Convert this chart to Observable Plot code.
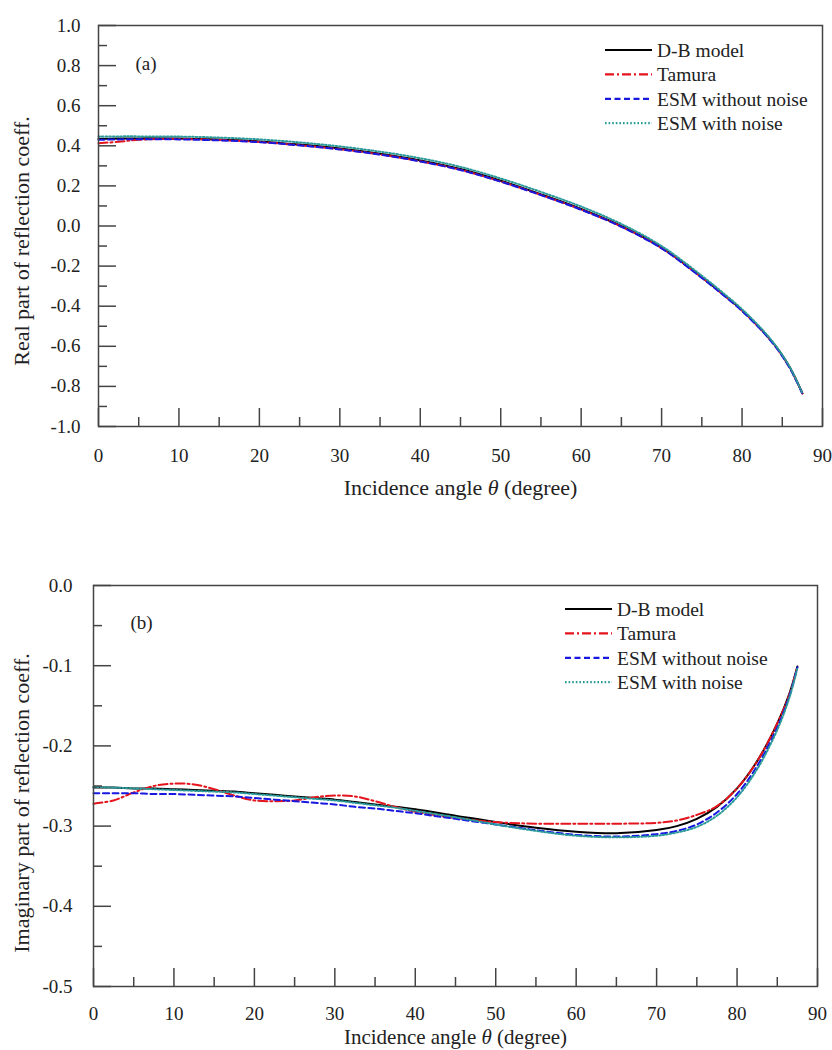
<!DOCTYPE html>
<html><head><meta charset="utf-8">
<script src="https://cdn.jsdelivr.net/npm/d3@7"></script>
<script src="https://cdn.jsdelivr.net/npm/@observablehq/plot@0.6"></script>
<style>
body{margin:0;background:#fff;}
#wrap{position:relative;width:832px;height:1050px;overflow:hidden;background:#fff;font-family:"Liberation Serif","DejaVu Serif",serif;}
.panel{position:absolute;left:0;}
#wrap svg, #wrap svg text{font-family:"Liberation Serif","DejaVu Serif",serif !important;}
</style></head><body><div id="wrap"></div>
<script>
const seriesNames = ["D-B model", "Tamura", "ESM without noise", "ESM with noise"];
const seriesColors = ["#000000", "#e3141c", "#1818e0", "#2a9a9a"];
const seriesDash = [null, "9,3,2,3", "6,3.5", "1.6,2"];

// Panel (a): real part
const anglesA = [0, 2.5, 5, 10, 15, 20, 25, 30, 35, 40, 45, 50, 55, 60, 65, 70, 75, 77.5, 80, 82.5, 84, 85, 86, 87, 87.5];
const realDB    = [0.435, 0.436, 0.437, 0.436, 0.431, 0.422, 0.406, 0.386, 0.360, 0.327, 0.284, 0.226, 0.158, 0.085, 0.000, -0.108, -0.255, -0.335, -0.420, -0.520, -0.590, -0.645, -0.710, -0.790, -0.835];
const realTam   = [0.413, 0.420, 0.430, 0.434, 0.429, 0.419, 0.403, 0.383, 0.357, 0.323, 0.280, 0.222, 0.155, 0.082, -0.003, -0.110, -0.257, -0.337, -0.422, -0.522, -0.592, -0.647, -0.712, -0.791, -0.835];
const realESM   = [0.430, 0.432, 0.433, 0.432, 0.427, 0.418, 0.402, 0.382, 0.356, 0.322, 0.279, 0.221, 0.154, 0.081, -0.004, -0.112, -0.259, -0.339, -0.424, -0.524, -0.594, -0.649, -0.714, -0.793, -0.837];
const realESMn  = [0.447, 0.447, 0.447, 0.446, 0.441, 0.432, 0.417, 0.397, 0.371, 0.338, 0.295, 0.237, 0.170, 0.097, 0.010, -0.100, -0.248, -0.329, -0.415, -0.516, -0.587, -0.643, -0.708, -0.789, -0.835];

// Panel (b): imaginary part
const anglesB = [0, 2.5, 5, 7.5, 10, 12.5, 15, 17.5, 20, 22.5, 25, 27.5, 30, 32.5, 35, 37.5, 40, 45, 50, 55, 60, 65, 70, 72.5, 75, 77.5, 80, 82.5, 85, 86.5, 87.5];
const imagDB   = [-0.252, -0.252, -0.253, -0.253, -0.254, -0.255, -0.256, -0.257, -0.259, -0.261, -0.263, -0.265, -0.267, -0.270, -0.273, -0.276, -0.279, -0.287, -0.295, -0.302, -0.307, -0.309, -0.305, -0.300, -0.291, -0.276, -0.253, -0.219, -0.172, -0.135, -0.101];
const imagTam  = [-0.272, -0.268, -0.258, -0.250, -0.247, -0.248, -0.254, -0.262, -0.268, -0.269, -0.268, -0.264, -0.262, -0.263, -0.269, -0.276, -0.282, -0.290, -0.295, -0.297, -0.297, -0.297, -0.296, -0.293, -0.286, -0.275, -0.253, -0.219, -0.172, -0.136, -0.101];
const imagESM  = [-0.259, -0.259, -0.259, -0.260, -0.260, -0.261, -0.262, -0.263, -0.265, -0.267, -0.269, -0.271, -0.273, -0.276, -0.278, -0.281, -0.284, -0.291, -0.298, -0.305, -0.311, -0.313, -0.310, -0.306, -0.298, -0.283, -0.260, -0.225, -0.177, -0.138, -0.102];
const imagESMn = [-0.251, -0.252, -0.253, -0.254, -0.255, -0.256, -0.257, -0.258, -0.260, -0.262, -0.264, -0.266, -0.268, -0.271, -0.274, -0.277, -0.281, -0.289, -0.298, -0.306, -0.312, -0.314, -0.312, -0.308, -0.301, -0.287, -0.264, -0.229, -0.180, -0.140, -0.103];

const xTicks = [0, 10, 20, 30, 40, 50, 60, 70, 80, 90];
const xMinor = [5, 15, 25, 35, 45, 55, 65, 75, 85];
const yTicksA = [-1, -0.8, -0.6, -0.4, -0.2, 0, 0.2, 0.4, 0.6, 0.8, 1];
const yMinorA = [-0.9, -0.7, -0.5, -0.3, -0.1, 0.1, 0.3, 0.5, 0.7, 0.9];
const yTicksB = [-0.5, -0.4, -0.3, -0.2, -0.1, 0];
const yMinorB = [-0.45, -0.35, -0.25, -0.15, -0.05];

const FONT = "Liberation Serif, DejaVu Serif, serif";
const AX = "#444";
const TXT = "#222";

function rows(angles, values) { return angles.map((a, i) => ({angle: a, value: values[i]})); }

function makePanel(cfg) {
  const lineMarks = cfg.series.map((vals, i) => Plot.line(rows(cfg.angles, vals), {
    x: "angle", y: "value", stroke: seriesColors[i], strokeWidth: 2,
    strokeDasharray: seriesDash[i] || undefined, curve: "catmull-rom"
  }));
  const svg = Plot.plot({
    width: 832, height: cfg.height,
    marginLeft: cfg.ml, marginRight: cfg.mr, marginTop: cfg.mt, marginBottom: cfg.mb,
    x: {domain: [0, 90]},
    y: {domain: cfg.ydomain},
    style: {fontFamily: FONT, fontSize: "19px", color: TXT, background: "white", overflow: "visible"},
    marks: [
      ...lineMarks,
      Plot.frame({stroke: AX, strokeWidth: 1.5}),
      Plot.axisX(xTicks, {tickSize: -18, fill: "none", stroke: AX, strokeWidth: 1.5}),
      Plot.axisX(xMinor, {tickSize: -9, fill: "none", stroke: AX, strokeWidth: 1.5}),
      Plot.axisY(cfg.yTicks, {tickSize: -18, fill: "none", stroke: AX, strokeWidth: 1.5}),
      Plot.axisY(cfg.yMinor, {tickSize: -9, fill: "none", stroke: AX, strokeWidth: 1.5}),
      Plot.axisX(xTicks, {tickSize: 0, tickPadding: cfg.xpad, label: null, fill: TXT, fontSize: 19}),
      Plot.axisY(cfg.yTicks, {tickSize: 0, tickPadding: cfg.ypad, label: null, fill: TXT, fontSize: 19, tickFormat: d => d.toFixed(1)}),
      Plot.text([cfg.xlabel], {frameAnchor: "bottom", dy: cfg.xlabDy, lineAnchor: "middle", fontSize: cfg.xlabSize, fill: TXT, text: d => d}),
      Plot.text([cfg.ylabel], {frameAnchor: "left", dx: cfg.ylabDx, dy: cfg.ylabDy, rotate: -90, lineAnchor: "middle", textAnchor: "middle", fontSize: 22, fill: TXT, text: d => d}),
      Plot.text([cfg.tag], {frameAnchor: "top-left", dx: 37, dy: cfg.tagDy, textAnchor: "start", lineAnchor: "middle", fontSize: 19, fill: TXT, text: d => d})
    ]
  });
  svg.setAttribute("font-family", FONT);
  // italic theta
  d3.select(svg).selectAll("text").each(function() {
    const t = this.textContent;
    if (t.includes("θ") && this.childElementCount === 0) {
      const parts = t.split("θ");
      this.textContent = "";
      const s = d3.select(this);
      s.append("tspan").text(parts[0]);
      s.append("tspan").attr("font-style", "italic").text("θ");
      s.append("tspan").text(parts[1]);
    }
  });
  // legend inside plot
  const g = d3.select(svg).append("g").attr("font-family", FONT).attr("font-size", 19.5)
    .attr("fill", TXT).attr("text-anchor", "start");
  seriesNames.forEach((name, i) => {
    const y = cfg.legY + i * 24.4;
    g.append("line").attr("x1", cfg.legX).attr("x2", cfg.legX + 47).attr("y1", y).attr("y2", y)
      .attr("stroke", seriesColors[i]).attr("stroke-width", 2.2)
      .attr("stroke-dasharray", seriesDash[i] || null);
    g.append("text").attr("x", cfg.legX + 52).attr("y", y).attr("dy", "0.35em")
      .attr("text-anchor", "start").text(name);
  });
  return svg;
}

const wrap = document.getElementById("wrap");

const pA = makePanel({
  height: 520, ml: 98, mr: 10, mt: 25, mb: 94, ydomain: [-1, 1],
  angles: anglesA, series: [realDB, realTam, realESM, realESMn],
  yTicks: yTicksA, yMinor: yMinorA, xpad: 22, ypad: 18,
  xlabel: "Incidence angle θ (degree)", xlabDy: 61, xlabSize: 22,
  ylabel: "Real part of reflection coeff.", ylabDx: -77, ylabDy: 15,
  tag: "(a)", tagDy: 38, legX: 605, legY: 50
});
const dA = document.createElement("div"); dA.className = "panel"; dA.style.top = "0px"; dA.appendChild(pA); wrap.appendChild(dA);

const pB = makePanel({
  height: 530, ml: 93, mr: 15, mt: 65, mb: 64, ydomain: [-0.5, 0],
  angles: anglesB, series: [imagDB, imagTam, imagESM, imagESMn],
  yTicks: yTicksB, yMinor: yMinorB, xpad: 20, ypad: 21,
  xlabel: "Incidence angle θ (degree)", xlabDy: 50.5, xlabSize: 21,
  ylabel: "Imaginary part of reflection coeff.", ylabDx: -72, ylabDy: 17,
  tag: "(b)", tagDy: 37, legX: 565, legY: 89
});
const dB = document.createElement("div"); dB.className = "panel"; dB.style.top = "520px"; dB.appendChild(pB); wrap.appendChild(dB);
</script></body></html>
